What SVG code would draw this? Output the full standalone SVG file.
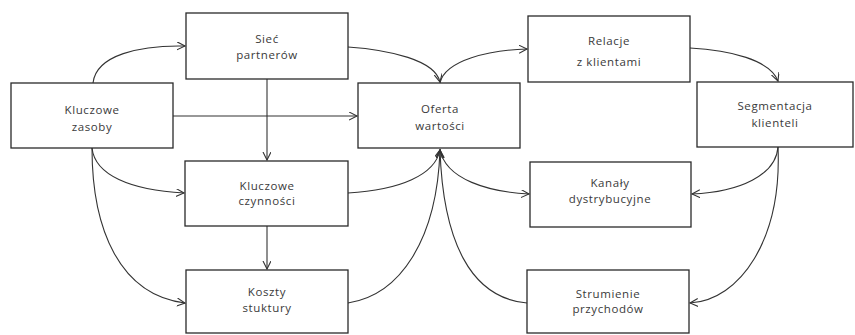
<svg xmlns="http://www.w3.org/2000/svg" width="855" height="335" viewBox="0 0 855 335">
<style>
.box{fill:#fff;stroke:#2a2a2a;stroke-width:1.3}
.t{font-family:"Open Sans","Liberation Sans",sans-serif;font-size:11.5px;letter-spacing:0.6px;fill:#3a3a3a;text-anchor:middle}
.c{fill:none;stroke:#333;stroke-width:1.1}
</style>
<defs>
<marker id="a" markerUnits="userSpaceOnUse" markerWidth="10" markerHeight="10" refX="8" refY="4" orient="auto">
<path d="M0,0 L8,4 L0,8" fill="none" stroke="#333" stroke-width="1.1"/>
</marker>
</defs>
<rect width="855" height="335" fill="#fff"/>
<g id="connectors">
<path class="c" d="M93,83 C96,55 140,45 185,46" marker-end="url(#a)"/>
<path class="c" d="M173,116 L357,116" marker-end="url(#a)"/>
<path class="c" d="M267,79 L267,160" marker-end="url(#a)"/>
<path class="c" d="M348,47 C390,50 435,60 440,82" marker-end="url(#a)"/>
<path class="c" d="M440,83 C445,60 490,50 527,49" marker-end="url(#a)"/>
<path class="c" d="M690,48 C730,50 770,60 778,81" marker-end="url(#a)"/>
<path class="c" d="M778,147 C776,175 740,192 692,194" marker-end="url(#a)"/>
<path class="c" d="M778,147 C782,240 740,300 690,303" marker-end="url(#a)"/>
<path class="c" d="M92,148 C95,175 130,190 184,193" marker-end="url(#a)"/>
<path class="c" d="M92,148 C92,230 120,295 185,303" marker-end="url(#a)"/>
<path class="c" d="M267,226 L267,269" marker-end="url(#a)"/>
<path class="c" d="M348,193 C400,190 435,175 440,150" marker-end="url(#a)"/>
<path class="c" d="M348,303 C400,295 437,240 440,150" marker-end="url(#a)"/>
<path class="c" d="M440,149 C445,180 490,192 529,194" marker-end="url(#a)"/>
<path class="c" d="M527,303 C470,298 443,240 440,150" marker-end="url(#a)"/>
</g>
<g id="kluczowe-zasoby"><rect class="box" x="11" y="83" width="162" height="65"/><text class="t" x="92" y="114">Kluczowe</text><text class="t" x="92" y="131">zasoby</text></g>
<g id="siec-partnerow"><rect class="box" x="186" y="13" width="162" height="66"/><text class="t" x="267" y="43">Sieć</text><text class="t" x="267" y="59">partnerów</text></g>
<g id="oferta-wartosci"><rect class="box" x="358" y="83" width="162" height="65"/><text class="t" x="440" y="113">Oferta</text><text class="t" x="440" y="130">wartości</text></g>
<g id="relacje"><rect class="box" x="528" y="16" width="162" height="66"/><text class="t" x="609" y="45">Relacje</text><text class="t" x="609" y="66">z klientami</text></g>
<g id="segmentacja"><rect class="box" x="697" y="82" width="156" height="65"/><text class="t" x="775" y="110">Segmentacja</text><text class="t" x="775" y="127">klienteli</text></g>
<g id="kluczowe-czynnosci"><rect class="box" x="185" y="161" width="163" height="65"/><text class="t" x="267" y="190">Kluczowe</text><text class="t" x="267" y="205">czynności</text></g>
<g id="kanaly"><rect class="box" x="530" y="162" width="161" height="65"/><text class="t" x="610" y="187">Kanały</text><text class="t" x="610" y="203">dystrybucyjne</text></g>
<g id="koszty"><rect class="box" x="186" y="270" width="162" height="63"/><text class="t" x="267" y="296">Koszty</text><text class="t" x="267" y="312">stuktury</text></g>
<g id="strumienie"><rect class="box" x="527" y="270" width="162" height="63"/><text class="t" x="608" y="298">Strumienie</text><text class="t" x="608" y="313">przychodów</text></g>
</svg>
